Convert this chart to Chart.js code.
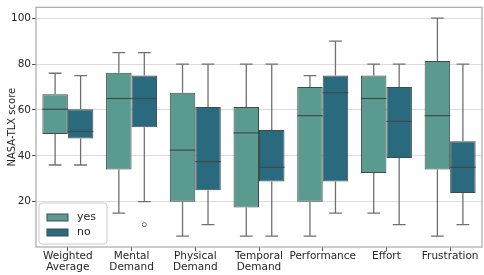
<!DOCTYPE html>
<html>
<head>
<meta charset="utf-8">
<script src="https://cdn.jsdelivr.net/npm/chart.js@4"></script>
<style>
  html, body { margin: 0; padding: 0; background: #fff; }
  #wrap { width: 484px; height: 275px; }
</style>
</head>
<body>
<div id="wrap"><canvas id="box-chart"></canvas></div>
<script>
const categories = [["Weighted", "Average"], ["Mental", "Demand"], ["Physical", "Demand"], ["Temporal", "Demand"], "Performance", "Effort", "Frustration"];
const yTicks = [20, 40, 60, 80, 100];

// five-number summaries
const yesMin = [36, 15, 5, 5, 5, 15, 5];
const yesQ1 = [49.5, 34, 20, 17.5, 20, 32.5, 34];
const yesMedian = [60.3, 65, 42.5, 50, 57.5, 65, 57.5];
const yesQ3 = [66.8, 76.2, 67.5, 61.3, 70, 75, 81.3];
const yesMax = [76, 85, 80, 80, 75, 80, 100];

const noMin = [36, 20, 10, 5, 15, 10, 10];
const noQ1 = [47.5, 52.5, 25, 28.8, 28.8, 39, 23.8];
const noMedian = [50.6, 65, 37.5, 35, 67.5, 55, 35];
const noQ3 = [60.3, 75, 61.3, 51.3, 75, 70, 46.3];
const noMax = [75, 85, 80, 80, 90, 80, 80];
const noOutliers = [[], [10], [], [], [], [], []];
const yesOutliers = [[], [], [], [], [], [], []];

const yesColor = "#5b9a8e";
const noColor = "#2a6a7f";
const edgeColor = "#3e4b4b";
const whiskerColor = "#707070";

const series = [
  { min: yesMin, med: yesMedian, max: yesMax, out: yesOutliers },
  { min: noMin, med: noMedian, max: noMax, out: noOutliers },
];

const boxPlugin = {
  id: "boxParts",
  afterDatasetsDraw(chart) {
    const ctx = chart.ctx;
    const y = chart.scales.y;
    ctx.save();
    series.forEach((s, di) => {
      const meta = chart.getDatasetMeta(di);
      meta.data.forEach((bar, i) => {
        const props = bar.getProps(["x", "y", "base", "width"], true);
        const cx = props.x;
        const half = props.width / 2;
        const top = Math.min(props.y, props.base);
        const bottom = Math.max(props.y, props.base);
        ctx.strokeStyle = whiskerColor;
        ctx.lineWidth = 1.3;
        ctx.beginPath();
        ctx.moveTo(cx, top);
        ctx.lineTo(cx, y.getPixelForValue(s.max[i]));
        ctx.moveTo(cx, bottom);
        ctx.lineTo(cx, y.getPixelForValue(s.min[i]));
        ctx.moveTo(cx - half / 2, y.getPixelForValue(s.max[i]));
        ctx.lineTo(cx + half / 2, y.getPixelForValue(s.max[i]));
        ctx.moveTo(cx - half / 2, y.getPixelForValue(s.min[i]));
        ctx.lineTo(cx + half / 2, y.getPixelForValue(s.min[i]));
        ctx.stroke();
        ctx.strokeStyle = edgeColor;
        ctx.lineWidth = 1.2;
        ctx.beginPath();
        ctx.moveTo(cx - half, y.getPixelForValue(s.med[i]));
        ctx.lineTo(cx + half, y.getPixelForValue(s.med[i]));
        ctx.stroke();
        ctx.strokeStyle = whiskerColor;
        ctx.lineWidth = 1;
        s.out[i].forEach(v => {
          ctx.beginPath();
          ctx.arc(cx, y.getPixelForValue(v), 2, 0, Math.PI * 2);
          ctx.stroke();
        });
      });
    });

    // frame around plot
    const a = chart.chartArea;
    ctx.strokeStyle = "#a8a8a8";
    ctx.lineWidth = 1.2;
    ctx.strokeRect(a.left, a.top, a.right - a.left, a.bottom - a.top);

    // legend in lower left corner
    const lx = a.left + 3, ly = a.bottom - 44;
    ctx.fillStyle = "rgba(255,255,255,0.8)";
    ctx.strokeStyle = "#cccccc";
    ctx.lineWidth = 1;
    ctx.beginPath();
    ctx.roundRect(lx, ly, 68, 41, 3);
    ctx.fill();
    ctx.stroke();
    const items = [["yes", yesColor], ["no", noColor]];
    ctx.font = "11px 'DejaVu Sans'";
    ctx.textBaseline = "middle";
    items.forEach((it, k) => {
      const sy = ly + 11 + k * 15;
      ctx.fillStyle = it[1];
      ctx.fillRect(lx + 8, sy, 21, 7);
      ctx.strokeStyle = edgeColor;
      ctx.strokeRect(lx + 8, sy, 21, 7);
      ctx.fillStyle = "#262626";
      ctx.fillText(it[0], lx + 38, sy + 3.5);
    });
    ctx.restore();
  },
};

const boxChart = new Chart(document.getElementById("box-chart"), {
  type: "bar",
  data: {
    labels: categories,
    datasets: [
      {
        label: "yes",
        backgroundColor: yesColor,
        borderColor: edgeColor,
        borderWidth: 1,
        borderSkipped: false,
        data: yesQ1.map((q, i) => [q, yesQ3[i]]),
      },
      {
        label: "no",
        backgroundColor: noColor,
        borderColor: edgeColor,
        borderWidth: 1,
        borderSkipped: false,
        data: noQ1.map((q, i) => [q, noQ3[i]]),
      },
    ],
  },
  options: {
    responsive: true,
    maintainAspectRatio: false,
    animation: false,
    layout: { padding: { top: 3, right: 2, left: 0, bottom: 0 } },
    categoryPercentage: 0.8,
    barPercentage: 1.0,
    plugins: {
      legend: { display: false },
      tooltip: { enabled: false },
    },
    scales: {
      x: {
        grid: { offset: false, drawOnChartArea: false, tickLength: 4, tickColor: "#555" },
        border: { display: false },
        ticks: { color: "#262626", font: { family: "DejaVu Sans", size: 10.5, lineHeight: 1.05 }, padding: 0, maxRotation: 0, autoSkip: false },
        afterFit(scale) { scale.height = 28; },
      },
      y: {
        min: 0.25,
        max: 104.75,
        afterBuildTicks(scale) { scale.ticks = yTicks.map(v => ({ value: v })); },
        grid: { color: "#dcdcdc", tickLength: 4, tickColor: "#555" },
        border: { display: false },
        ticks: { color: "#262626", font: { family: "DejaVu Sans", size: 10.5 }, padding: 1 },
        title: { display: true, text: "NASA-TLX score", color: "#262626", font: { family: "DejaVu Sans", size: 10 }, padding: { top: 6, bottom: 0 } },
        afterFit(scale) { scale.width = 36; },
      },
    },
  },
  plugins: [boxPlugin],
});
</script>
</body>
</html>
